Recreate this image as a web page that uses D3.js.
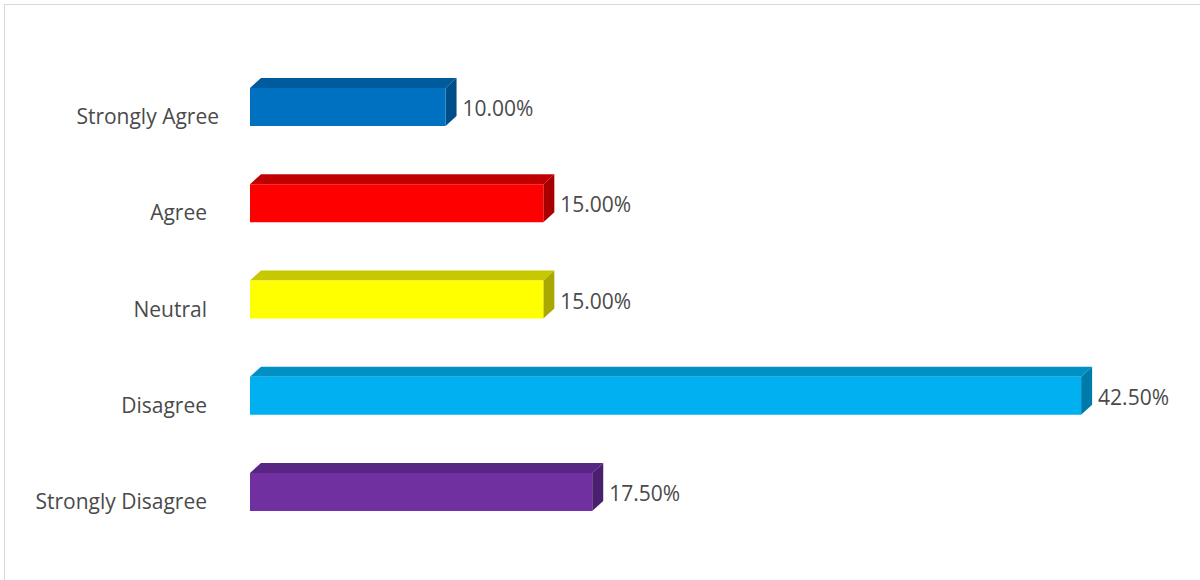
<!DOCTYPE html>
<html>
<head>
<meta charset="utf-8">
<script src="https://cdn.jsdelivr.net/npm/d3@7"></script>
<style>
  html, body { margin: 0; padding: 0; background: #fff; }
  svg { display: block; }
  text { font-family: "Open Sans", Lato, sans-serif; fill: #4a4a4a; }
</style>
</head>
<body>
<svg id="chart" width="1200" height="580"></svg>
<script>
// Survey responses (percent of respondents)
const categories = ["Strongly Agree", "Agree", "Neutral", "Disagree", "Strongly Disagree"];
const values = [10.0, 15.0, 15.0, 42.5, 17.5];
const frontColors = ["#0070C0", "#FF0000", "#FFFF00", "#00B0F0", "#7030A0"];
const topColors   = ["#005A9E", "#C00000", "#C8C800", "#0090C4", "#582582"];
const sideColors  = ["#004E87", "#A80000", "#A8A800", "#007AA8", "#4A1F6E"];

const svg = d3.select("#chart");

// Chart frame
svg.append("rect")
  .attr("x", 4.5).attr("y", 4.5)
  .attr("width", 1200).attr("height", 590)
  .attr("fill", "#fff").attr("stroke", "#d9d9d9");

const x = d3.scaleLinear().domain([0, 45]).range([250, 1130]);
const y = d3.scalePoint().domain(categories).range([107, 492]);
const barH = 38, dx = 11, dy = 10;

const g = svg.append("g");
const bars = g.selectAll("g.bar")
  .data(categories.map((c, i) => ({ c, v: values[i], i })))
  .join("g").attr("class", "bar");

// Top face
bars.append("path")
  .attr("d", d => {
    const x0 = x(0), x1 = x(d.v), yt = y(d.c) - barH / 2;
    return `M${x0},${yt} L${x0 + dx},${yt - dy} L${x1 + dx},${yt - dy} L${x1},${yt} Z`;
  })
  .attr("fill", d => topColors[d.i]);

// Side face
bars.append("path")
  .attr("d", d => {
    const x1 = x(d.v), yt = y(d.c) - barH / 2, yb = yt + barH;
    return `M${x1},${yt} L${x1 + dx},${yt - dy} L${x1 + dx},${yb - dy} L${x1},${yb} Z`;
  })
  .attr("fill", d => sideColors[d.i]);

// Front face
bars.append("rect")
  .attr("x", x(0))
  .attr("y", d => y(d.c) - barH / 2)
  .attr("width", d => x(d.v) - x(0))
  .attr("height", barH)
  .attr("fill", d => frontColors[d.i]);

// Value labels
bars.append("text")
  .attr("x", d => x(d.v) + dx + 6)
  .attr("y", d => y(d.c) + 9)
  .attr("font-size", 21)
  .text(d => d.v.toFixed(2) + "%");

// Category labels
const yAxis = d3.axisLeft(y).tickSize(0).tickPadding(0);
const axisG = svg.append("g").attr("transform", "translate(207,10)").call(yAxis);
axisG.select(".domain").remove();
axisG.selectAll("text")
  .attr("font-size", 21)
  .attr("fill", "#4a4a4a")
  .attr("font-family", "'Open Sans', Lato, sans-serif")
  .attr("dx", (d, i) => i === 0 ? 12 : 0);
</script>
</body>
</html>
